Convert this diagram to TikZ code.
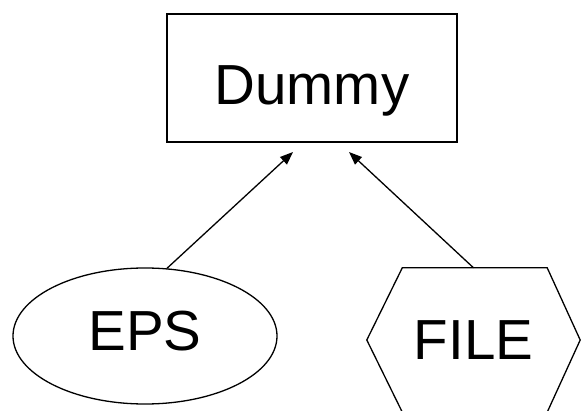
\documentclass[tikz,border=0pt]{standalone}
\usepackage{fontspec}
\setmainfont{Liberation Sans}
\usetikzlibrary{arrows.meta,shapes.geometric}
\tikzset{
  lbl/.style={font=\fontsize{56.5}{60}\selectfont, inner sep=0pt, text depth=0pt},
  boxnode/.style={lbl, draw, line width=1.4pt, minimum width=290pt, minimum height=128pt, text height=53pt},
  ellnode/.style={lbl, draw, ellipse, line width=1.3pt, minimum width=264pt, minimum height=136pt, text height=28pt},
  hexnode/.style={lbl, minimum width=213pt, minimum height=144pt, text height=38pt},
  hexline/.style={line width=1.3pt, line join=miter},
  conn/.style={line width=1.3pt, -{Triangle[length=13pt,width=10pt]}}
}
\begin{document}
\begin{tikzpicture}[x=1pt,y=1pt]
\useasboundingbox (0,0) rectangle (581,410);
\node[boxnode] (dummy) at (312,332) {Dummy};
\node[ellnode] (eps) at (145,74) {EPS};
\node[hexnode] (file) at (473.5,70) {FILE};
\begin{scope}
\clip (0,0) rectangle (581,410);
\draw[hexline] (file.west) -- ([xshift=35.5pt]file.north west) -- ([xshift=-33pt]file.north east) -- (file.east) -- ([xshift=-33pt]file.south east) -- ([xshift=35.5pt]file.south west) -- cycle;
\end{scope}
\coordinate (tipA) at (293,258);
\coordinate (tipB) at (349,258);
\draw[conn] (eps.72) -- (tipA);
\draw[conn] (file.north) -- (tipB);
\end{tikzpicture}
\end{document}
